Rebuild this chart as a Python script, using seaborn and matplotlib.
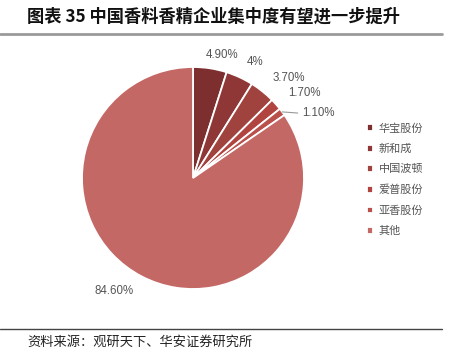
import numpy as np
import matplotlib
matplotlib.use("Agg")
import matplotlib.pyplot as plt
import seaborn as sns

companies = ["华宝股份", "新和成", "中国波顿", "爱普股份", "亚香股份", "其他"]
shares = [4.9, 4.0, 3.7, 1.7, 1.1, 84.6]
share_labels = ["4.90%", "4%", "3.70%", "1.70%", "1.10%", "84.60%"]
title = "图表 35 中国香料香精企业集中度有望进一步提升"
source = "资料来源：观研天下、华安证券研究所"

sns.set_theme(style="white")
plt.rcParams['font.family'] = ['Noto Sans CJK SC', 'DejaVu Sans']

colors = ["#7d2e2e", "#8f3737", "#a0423e", "#b2443f", "#b9504b", "#c46865"]
W, H = 449, 357
fig = plt.figure(figsize=(W / 100, H / 100), dpi=100)

# title and rules
fig.text(27 / W, 1 - 17 / H, title, fontsize=12.4, fontweight='bold', color='#111111',
         va='center', ha='left')
fig.add_artist(plt.Line2D([0, 442 / W], [1 - 34 / H, 1 - 34 / H], color='#9a9a9a', lw=2))
fig.add_artist(plt.Line2D([0, 442 / W], [1 - 329 / H, 1 - 329 / H], color='#444444', lw=1))
fig.text(27 / W, 1 - 342 / H, source, fontsize=9.5, color='#222222', va='center', ha='left')

ax = fig.add_axes([82 / W, 1 - 289 / H, 222 / W, 222 / H])
wedges, _ = ax.pie(shares, colors=colors, startangle=90, counterclock=False, radius=1,
                   wedgeprops=dict(edgecolor='white', linewidth=1.3))
ax.set_xlim(-1, 1)
ax.set_ylim(-1, 1)
ax.set_aspect('equal')
ax.axis('off')

lab_font = ['Liberation Sans', 'DejaVu Sans']
for i, (w, lab) in enumerate(zip(wedges, share_labels)):
    ang = np.deg2rad((w.theta1 + w.theta2) / 2)
    x, y = 1.15 * np.cos(ang), 1.15 * np.sin(ang)
    ha = 'left' if np.cos(ang) >= 0 else 'right'
    if lab == "1.10%":
        ex, ey = np.cos(ang), np.sin(ang)
        ty = ey - 0.01
        ax.plot([ex, ex + 0.14], [ey, ty], color='#999999', lw=0.8, clip_on=False)
        ax.text(ex + 0.18, ty, lab, fontsize=8.3, color='#555555', ha='left', va='center',
                family=lab_font)
        continue
    if lab == "4.90%":
        x -= 0.06
        y -= 0.03
    ax.text(x, y, lab, fontsize=8.3, color='#555555', ha=ha, va='center', family=lab_font)

leg = fig.legend(wedges, companies, loc='upper left', bbox_to_anchor=(357 / W, 1 - 113 / H),
                 frameon=False, fontsize=8, handlelength=0.55, handleheight=0.55,
                 handletextpad=0.5, labelspacing=0.92, labelcolor='#555555')

fig.savefig("out.png", dpi=100)
